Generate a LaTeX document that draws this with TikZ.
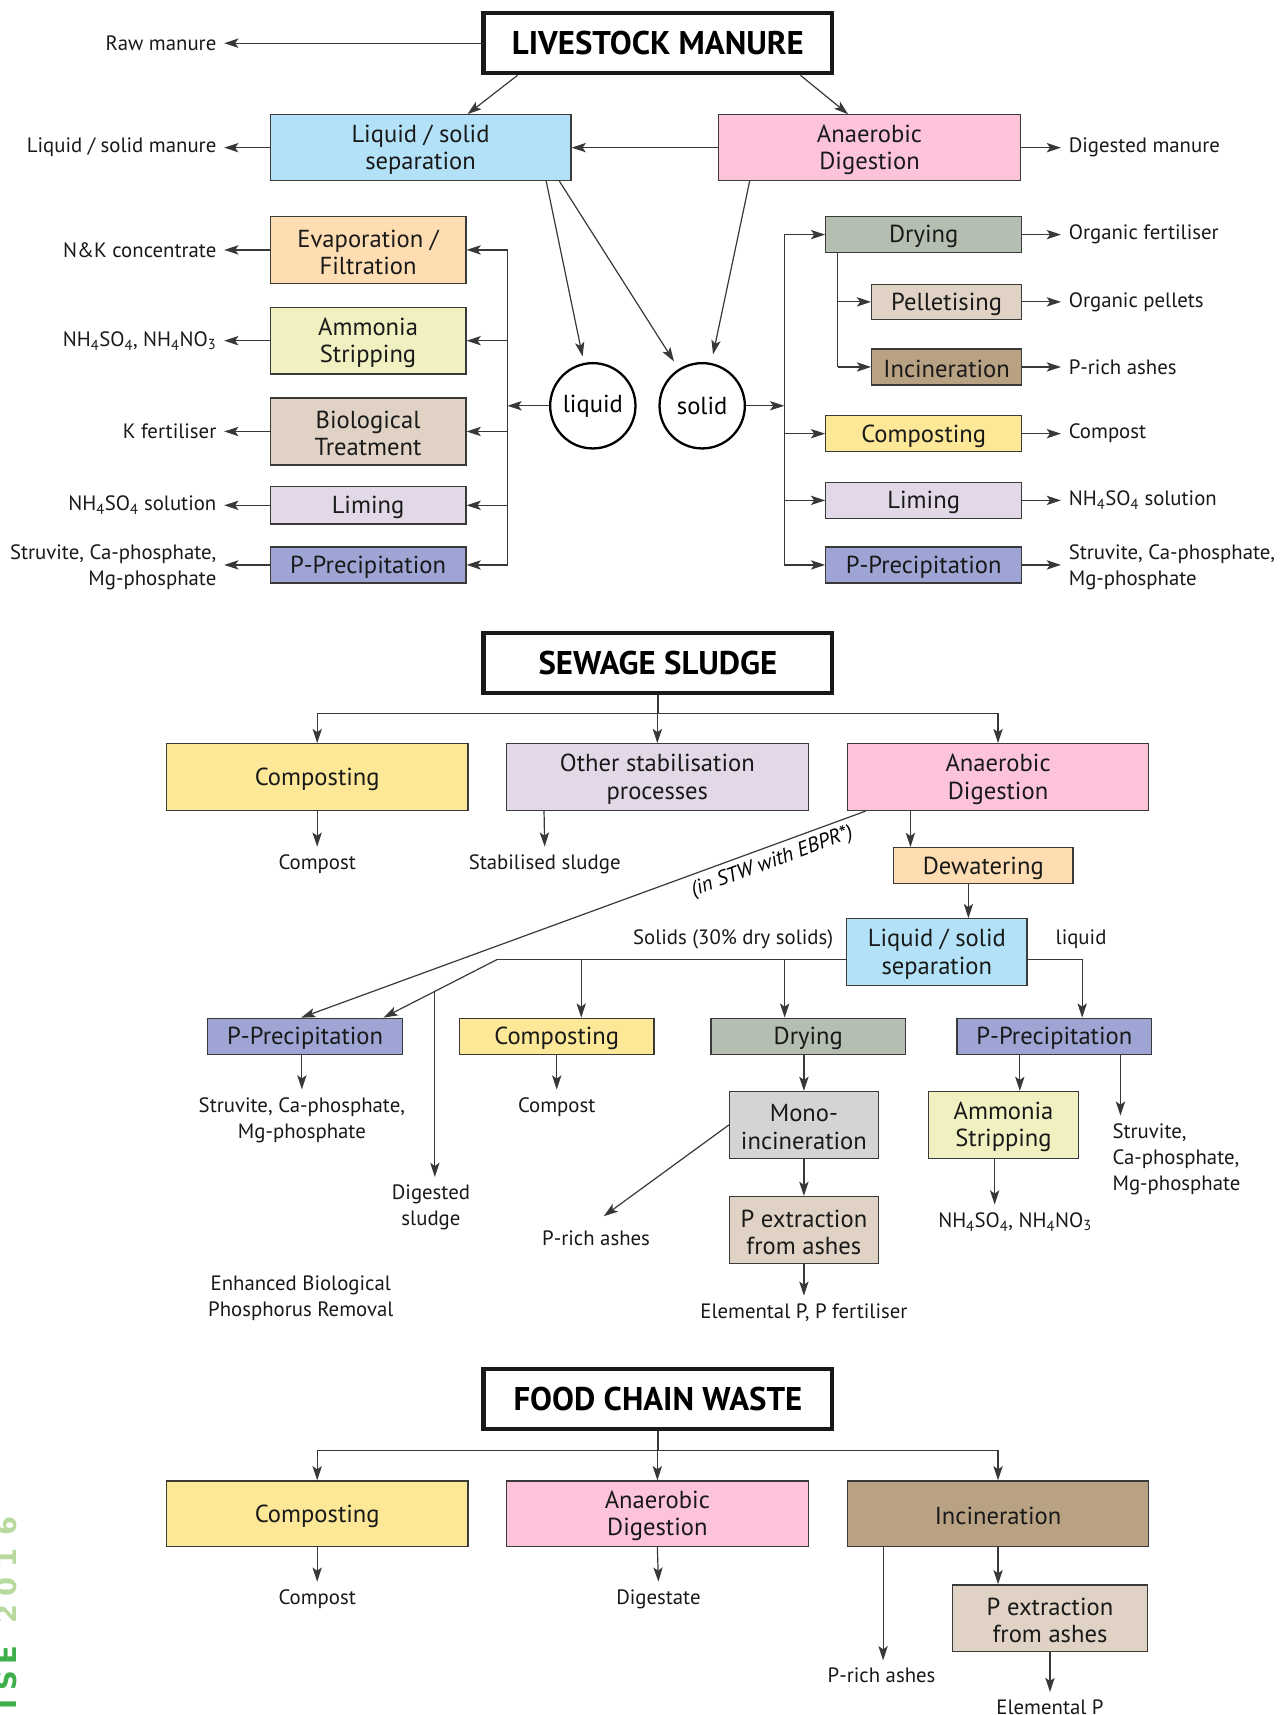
\documentclass[tikz,border=0pt]{standalone}
\usepackage{fontspec}
\setmainfont{PT Sans}
\newfontfamily\markfont{DejaVu Sans}
\usetikzlibrary{arrows.meta}

\definecolor{boxline}{HTML}{3A3A3A}
\definecolor{lsblue}{HTML}{B3E1F7}
\definecolor{adpink}{HTML}{FCC3DB}
\definecolor{evapo}{HTML}{FFDDB3}
\definecolor{ammon}{HTML}{F1F0C1}
\definecolor{paletan}{HTML}{E0D3C5}
\definecolor{liming}{HTML}{E3D8E8}
\definecolor{pprec}{HTML}{9EA5D5}
\definecolor{drying}{HTML}{B4BEB1}
\definecolor{incin}{HTML}{B9A283}
\definecolor{compost}{HTML}{FCE897}
\definecolor{mono}{HTML}{D4D4D4}
\definecolor{yrgreen}{HTML}{B9DA9E}
\definecolor{isegreen}{HTML}{3DAE49}

\newcommand{\sbs}[1]{\textsubscript{#1}}

\tikzset{
  proc/.style={draw=boxline, line width=1.2pt, inner sep=0pt},
  proctext/.style={inner sep=0pt, align=center, text=black!90,
    font=\fontsize{22.5}{25}\selectfont},
  ttl/.style={draw=black!90, line width=3.8pt, fill=white, inner sep=0pt,
    minimum width=319pt, minimum height=55pt, font=\fontsize{30}{32}\selectfont\bfseries},
  lbl/.style={inner sep=7pt, text=black!90, font=\fontsize{19}{24}\selectfont},
  circ/.style={circle, draw=black, line width=2.1pt, minimum size=78pt, inner sep=0pt,
    font=\fontsize{22.5}{24}\selectfont},
  sidemark/.style={rotate=90, inner sep=0pt, font=\markfont\fontsize{25}{25}\selectfont\bfseries},
  link/.style={draw=black!78, line width=1.1pt},
  flow/.style={link, ->},
  >={Stealth[length=13pt,width=8.5pt,inset=3pt]},
}

% name, x1, y1, x2, y2, [fill], text
\NewDocumentCommand{\procbox}{mmmmmO{white}m}{%
\node[proc, fill=#6, minimum width={(#4)-(#2)}, minimum height={(#5)-(#3)}]
  (#1) at ({((#2)+(#4))/2},{((#3)+(#5))/2}) {};%chktex 36
\node[proctext] (#1t) at ([yshift=-2pt]#1.center) {#7};%
}

\begin{document}
\begin{tikzpicture}[x=1pt, y=-1pt]
\useasboundingbox (0,0) rectangle (1177,1568);

% livestock manure
\node[ttl] (lm) at (601.5,39.5) {LIVESTOCK MANURE};
\procbox{ls}{247}{105}{522}{165}[lsblue]{Liquid / solid\\separation}
\procbox{ad}{657}{105}{933}{165}[adpink]{Anaerobic\\Digestion}
\procbox{ef}{247}{198}{426}{259}[evapo]{Evaporation /\\Filtration}
\procbox{as}{247}{281}{426}{342}[ammon]{Ammonia\\Stripping}
\procbox{bt}{247}{364}{426}{425}[paletan]{Biological\\Treatment}
\procbox{lim}{247}{445}{426}{479}[liming]{Liming}
\procbox{pp}{247}{500}{426}{533}[pprec]{P-Precipitation}
\procbox{dry}{755}{198}{934}{231}[drying]{Drying}
\procbox{pel}{797}{260}{934}{292}[paletan]{Pelletising}
\procbox{inc}{797}{319}{934}{352}[incin]{Incineration}
\procbox{com}{755}{380}{934}{413}[compost]{Composting}
\procbox{lmr}{755}{441}{934}{474}[liming]{Liming}
\procbox{ppr}{755}{500}{934}{533}[pprec]{P-Precipitation}
\node[circ] (liq) at (542,371) {liquid};
\node[circ] (sol) at (642,371) {solid};

\node[lbl, anchor=east] (raw) at (205,39.5) {Raw manure};
\node[lbl, anchor=east] (lsm) at (205,135) {Liquid / solid manure};
\node[lbl, anchor=west] (dgm) at (970,135) {Digested manure};
\node[lbl, anchor=east] (nk) at (205,228.5) {N\&K concentrate};
\node[lbl, anchor=east] (nhl) at (205,311.5) {NH\sbs{4}SO\sbs{4}, NH\sbs{4}NO\sbs{3}};
\node[lbl, anchor=east] (kf) at (205,394.5) {K fertiliser};
\node[lbl, anchor=east] (nhs) at (205,462) {NH\sbs{4}SO\sbs{4} solution};
\node[lbl, anchor=east, align=right] (stl) at (205,519) {Struvite, Ca-phosphate,\\Mg-phosphate};
\node[lbl, anchor=west] (orf) at (970,214.5) {Organic fertiliser};
\node[lbl, anchor=west] (orp) at (970,276) {Organic pellets};
\node[lbl, anchor=west] (pra) at (970,335.5) {P-rich ashes};
\node[lbl, anchor=west] (cmp) at (970,396.5) {Compost};
\node[lbl, anchor=west] (nhr) at (970,457.5) {NH\sbs{4}SO\sbs{4} solution};
\node[lbl, anchor=west, align=left] (str) at (970,519) {Struvite, Ca-phosphate,\\Mg-phosphate};

\draw[flow] (lm.west) -- (raw.east);
\draw[flow] ([xshift=33pt]lm.south west) -- ([xshift=181pt]ls.north west);
\draw[flow] ([xshift=-31pt]lm.south east) -- ([xshift=119pt]ad.north west);
\draw[flow] (ad.west) -- (ls.east);
\draw[flow] (ls.west) -- (lsm.east);
\draw[flow] (ad.east) -- (dgm.west);
\draw[flow, shorten >=6pt] ([xshift=253pt]ls.south west) -- (liq);
\draw[flow, shorten >=8pt] ([xshift=265pt]ls.south west) -- (sol);
\draw[flow, shorten >=8pt] ([xshift=29pt]ad.south west) -- (sol);

\coordinate (lbus) at (464,0);
\draw[link] (lbus |- ef.east) -- (lbus |- pp.east);
\draw[flow] (liq.west) -- (lbus |- liq.west);
\foreach \b/\l in {ef/nk,as/nhl,bt/kf,lim/nhs,pp/stl} {
  \draw[flow] (lbus |- \b.east) -- (\b.east);
  \draw[flow] (\b.west) -- (\b.west -| \l.east);
}

\coordinate (rbus) at (717,0);
\coordinate (sbus) at (766,0);
\draw[flow] (sol.east) -- (rbus |- sol.east);
\draw[link] (rbus |- dry.west) -- (rbus |- ppr.west);
\draw[link] (sbus |- dry.south) -- (sbus |- inc.west);
\foreach \b in {dry,com,lmr,ppr} \draw[flow] (rbus |- \b.west) -- (\b.west);
\foreach \b in {pel,inc} \draw[flow] (sbus |- \b.west) -- (\b.west);
\foreach \b/\l in {dry/orf,pel/orp,inc/pra,com/cmp,lmr/nhr,ppr/str}
  \draw[flow] (\b.east) -- (\b.east -| \l.west);

% sewage sludge
\node[ttl] (ss) at (601.5,606) {SEWAGE SLUDGE};
\procbox{sc}{152}{680}{428}{741}[compost]{Composting}
\procbox{so}{463}{680}{739}{741}[liming]{Other stabilisation\\processes}
\procbox{sa}{775}{680}{1050}{741}[adpink]{Anaerobic\\Digestion}
\procbox{dw}{817}{775}{981}{808}[evapo]{Dewatering}
\procbox{lss}{774}{840}{939}{901}[lsblue]{Liquid / solid\\separation}
\procbox{pp1}{190}{931}{368}{964}[pprec]{P-Precipitation}
\procbox{cp2}{420}{931}{598}{964}[compost]{Composting}
\procbox{dr2}{650}{931}{828}{964}[drying]{Drying}
\procbox{pp2}{875}{931}{1053}{964}[pprec]{P-Precipitation}
\procbox{mn}{667}{998}{803}{1059}[mono]{Mono-\\incineration}
\procbox{pex}{667}{1094}{803}{1155}[paletan]{P extraction\\from ashes}
\procbox{am2}{849}{998}{986}{1059}[ammon]{Ammonia\\Stripping}

\node[lbl] (cpt) at (290,790) {Compost};
\node[lbl] (stb) at (498,790) {Stabilised sludge};
\node[lbl, anchor=east] (s30) at (769,859) {Solids (30\% dry solids)};
\node[lbl, anchor=west] (lql) at (958,859) {liquid};
\node[lbl, align=center] (st1) at (276,1024) {Struvite, Ca-phosphate,\\Mg-phosphate};
\node[lbl] (cpt2) at (509,1012) {Compost};
\node[lbl, align=center] (dgs) at (394,1104) {Digested\\sludge};
\node[lbl] (pra2) at (545,1132) {P-rich ashes};
\node[lbl] (elp) at (735,1200) {Elemental P, P fertiliser};
\node[lbl] (nh2) at (928,1117) {NH\sbs{4}SO\sbs{4}, NH\sbs{4}NO\sbs{3}};
\node[lbl, anchor=north west, align=left] (st2) at (1010,1020) {Struvite,\\Ca-phosphate,\\Mg-phosphate};
\node[lbl, align=center] (ebpr) at (275,1187) {Enhanced Biological\\Phosphorus Removal};

\coordinate (sfork) at (0,652);
\foreach \b in {sc,so,sa} \draw[flow] (ss.south) |- (\b.north |- sfork) -- (\b.north);
\draw[flow] (sc.south) -- (cpt.north);
\draw[flow] ([xshift=35pt]so.south west) -- (stb.north);
\draw[flow] ([xshift=58pt]sa.south west) -- ([xshift=16pt]dw.north west);
\draw[flow] ([xshift=69pt]dw.south west) -- ([xshift=112pt]lss.north west);
\draw[flow] ([xshift=17pt]sa.south west) -- ([xshift=86pt]pp1.north west)
  node[sloped, below, pos=0.175, inner sep=5pt, font=\fontsize{19}{20}\selectfont\itshape] (stw) {(in STW with EBPR*)};

\coordinate (sline) at (455,877);
\coordinate (cp2in) at ([xshift=112pt]cp2.north west);
\coordinate (dr2in) at ([xshift=68pt]dr2.north west);
\draw[link] ([yshift=-6.5pt]lss.west) -- (sline);
\draw[flow] (sline) -- ([xshift=-18pt]pp1.north east) coordinate[pos=0.55] (dsg0);
\draw[flow] (dsg0) -- (dsg0 |- dgs.north);
\draw[flow] (cp2in |- sline) -- (cp2in);
\draw[flow] (dr2in |- sline) -- (dr2in);
\draw[flow] ([yshift=-6.5pt]lss.east) -| ([xshift=115pt]pp2.north west);

\draw[flow] (pp1.south -| st1.north) -- (st1.north);
\draw[flow] (cp2.south) -- (cpt2.north);
\draw[flow] (mn.north |- dr2.south) -- (mn.north);
\draw[flow] (mn.south) -- (pex.north);
\draw[flow] (pex.south) -- (elp.north);
\draw[flow] (mn.west) -- ([xshift=7pt,yshift=6pt]pra2.north);
\coordinate (am2in) at ([xshift=58pt]pp2.south west);
\coordinate (am2out) at ([xshift=61pt]am2.south west);
\coordinate (st2in) at ([xshift=150pt]pp2.south west);
\draw[flow] (am2in) -- (am2in |- am2.north);
\draw[flow] (am2out) -- (am2out |- nh2.north);
\draw[flow] (st2in) -- (st2in |- st2.north);

% food chain waste
\node[ttl] (fw) at (601.5,1279) {FOOD CHAIN WASTE};
\procbox{fc}{152}{1354}{428}{1414}[compost]{Composting}
\procbox{fa}{463}{1354}{739}{1414}[adpink]{Anaerobic\\Digestion}
\procbox{fi}{775}{1354}{1050}{1414}[incin]{Incineration}
\procbox{pex3}{871}{1449}{1049}{1510}[paletan]{P extraction\\from ashes}

\node[lbl] (cpt3) at (290,1462) {Compost};
\node[lbl] (dgt) at (602,1462) {Digestate};
\node[lbl] (pra3) at (806,1532) {P-rich ashes};
\node[lbl] (elp3) at (960,1561) {Elemental P};

\coordinate (ffork) at (0,1326);
\foreach \b in {fc,fa,fi} \draw[flow] (fw.south) |- (\b.north |- ffork) -- (\b.north);
\draw[flow] (fc.south) -- (cpt3.north);
\draw[flow] (fa.south) -- (dgt.north);
\coordinate (pra3in) at ([xshift=33pt]fi.south west);
\draw[flow] (pra3in) -- (pra3in |- pra3.north);
\draw[flow] (fi.south) -- (fi.south |- pex3.north);
\draw[flow] (pex3.south) -- (elp3.north);

% side mark
\foreach \c/\y in {6/1395,1/1424,0/1451,2/1476}
  \node[sidemark, text=yrgreen] (yr\c) at (6,\y) {\c};
\foreach \c/\y in {E/1513,S/1537,I/1558}
  \node[sidemark, text=isegreen] (ise\c) at (6,\y) {\c};
\end{tikzpicture}
\end{document}
